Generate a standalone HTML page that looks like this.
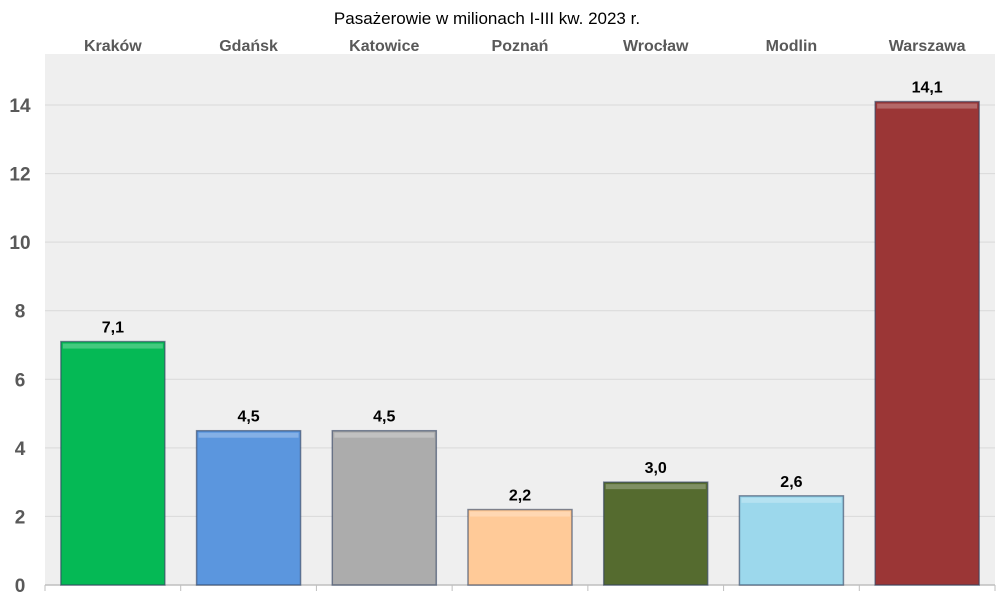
<!DOCTYPE html>
<html><head><meta charset="utf-8"><style>
body{margin:0;background:#fff;font-family:"Liberation Sans",sans-serif}
</style></head><body>
<svg id="c" width="1000" height="601" xmlns="http://www.w3.org/2000/svg">
<text x="487" y="24" text-anchor="middle" font-family="Liberation Sans, sans-serif" font-size="17" fill="#000">Pasażerowie w milionach I-III kw. 2023 r.</text>
<g id="g"></g>
</svg>
<script>
const categories=["Kraków","Gdańsk","Katowice","Poznań","Wrocław","Modlin","Warszawa"];
const values=[7.1,4.5,4.5,2.2,3.0,2.6,14.1];
const labels=["7,1","4,5","4,5","2,2","3,0","2,6","14,1"];
const yTicks=[0,2,4,6,8,10,12,14];
const colors=["#05b955","#5b96de","#acacac","#ffca98","#556b2f","#9cd8ec","#9b3636"];
const g=document.getElementById('g');
const NS="http://www.w3.org/2000/svg";
const L=45,R=995,T=54,B=585,yMax=14,yTop=105;
const y=v=>B-(B-yTop)*v/yMax;
const band=(R-L)/categories.length;
const x=i=>L+band*(i+0.5);
function mk(t,a){const e=document.createElementNS(NS,t);for(const k in a)e.setAttribute(k,a[k]);g.appendChild(e);return e;}
let e=mk('rect',{x:L,y:T,width:R-L,height:B-T,fill:'#efefef'});


yTicks.forEach(t=>{
 if(t>0){let l=mk('line',{x1:L,x2:R,y1:y(t),y2:y(t),stroke:'#d9d9d9','stroke-width':1});
 
 }
 let tx=mk('text',{x:20,y:y(t)+7,'text-anchor':'middle','font-size':19,'font-weight':'bold',fill:'#595959'});
 tx.textContent=t;
 
 
});
let ax=mk('line',{x1:L,x2:R,y1:B,y2:B,stroke:'#bfbfbf','stroke-width':1.5});


for(let i=0;i<=categories.length;i++){let t=mk('line',{x1:L+band*i,x2:L+band*i,y1:B,y2:B+6,stroke:'#bfbfbf'});
 
 }
const bw=104;
categories.forEach((c,i)=>{
 const cx=x(i),top=y(values[i]);
 let b=mk('rect',{x:cx-bw/2,y:top,width:bw,height:B-top,fill:colors[i],stroke:'#2f3f5f','stroke-width':1.5,'stroke-opacity':0.6});
 
 
 let h=mk('rect',{x:cx-bw/2+2,y:top+2,width:bw-4,height:5,fill:'#fff','fill-opacity':0.25});
 
 
 let v=mk('text',{x:cx,y:top-9,'text-anchor':'middle','font-size':16,'font-weight':'bold',fill:'#000'});
 v.textContent=labels[i];
 
 
 let cl=mk('text',{x:cx,y:51,'text-anchor':'middle','font-size':16,'font-weight':'bold',fill:'#595959'});
 cl.textContent=c;
 
 
});
</script>
</body></html>
